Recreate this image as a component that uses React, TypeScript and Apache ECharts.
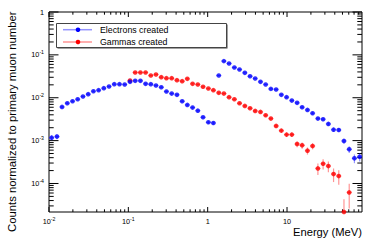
import React, { useEffect, useRef } from "react";
import * as echarts from "echarts";

// Bin centres (MeV)
const energyMeV = [
  0.0108, 0.0126, 0.0146, 0.017, 0.0198, 0.023, 0.0268, 0.0312, 0.0363, 0.0422,
  0.0491, 0.0571, 0.0665, 0.0773, 0.09, 0.105, 0.122, 0.142, 0.165, 0.192,
  0.223, 0.26, 0.302, 0.352, 0.41, 0.477, 0.554, 0.645, 0.751, 0.874,
  1.02, 1.18, 1.38, 1.6, 1.86, 2.17, 2.52, 2.94, 3.42, 3.97,
  4.63, 5.38, 6.26, 7.29, 8.48, 9.87, 11.5, 13.4, 15.5, 18.1,
  21.0, 24.5, 28.5, 33.2, 38.6, 44.9, 52.2, 60.8, 70.7, 82.3,
];

const electronCounts = [
  1.17e-3, 1.24e-3, 6.1e-3, 7.45e-3, 8.3e-3, 9.2e-3, 1.07e-2, 1.21e-2, 1.42e-2, 1.5e-2,
  1.67e-2, 1.83e-2, 2.07e-2, 2.07e-2, 2.04e-2, 2.35e-2, 2.48e-2, 2.48e-2, 2.11e-2, 2.07e-2,
  1.93e-2, 1.76e-2, 1.4e-2, 1.25e-2, 1.17e-2, 8.3e-3, 6.8e-3, 5.9e-3, 5.0e-3, 3.5e-3,
  2.68e-3, 2.58e-3, 3.3e-2, 7.15e-2, 6.3e-2, 5.08e-2, 4.56e-2, 3.81e-2, 3.18e-2, 2.81e-2,
  2.35e-2, 2.04e-2, 1.61e-2, 1.56e-2, 1.17e-2, 1.03e-2, 8.6e-3, 7.6e-3, 6.0e-3, 5.2e-3,
  4.35e-3, 3.27e-3, 3.15e-3, 2.45e-3, 1.8e-3, 1.77e-3, 9.8e-4, 6.26e-4, 3.86e-4, 4.2e-4,
];

const electronErrors = [
  1.55e-4, 1.6e-4, 3.5e-4, 3.9e-4, 4.1e-4, 4.3e-4, 4.7e-4, 5.0e-4, 5.4e-4, 5.5e-4,
  5.9e-4, 6.1e-4, 6.5e-4, 6.5e-4, 6.5e-4, 6.9e-4, 7.1e-4, 7.1e-4, 6.6e-4, 6.5e-4,
  6.3e-4, 6.0e-4, 5.4e-4, 5.1e-4, 4.9e-4, 4.1e-4, 3.7e-4, 3.5e-4, 3.2e-4, 2.7e-4,
  2.3e-4, 2.3e-4, 8.2e-4, 1.21e-3, 1.14e-3, 1.02e-3, 9.7e-4, 8.8e-4, 8.1e-4, 7.6e-4,
  6.9e-4, 6.5e-4, 5.7e-4, 5.7e-4, 4.9e-4, 4.6e-4, 4.2e-4, 3.9e-4, 3.5e-4, 3.3e-4,
  3.0e-4, 2.6e-4, 2.5e-4, 2.2e-4, 1.9e-4, 1.9e-4, 1.4e-4, 1.1e-4, 8.9e-5, 9.3e-5,
];

const gammaCounts: (number | null)[] = [
  null, null, null, null, null, null, null, null, null, null,
  null, null, null, null, null, 0.0252, 0.0388, 0.0388, 0.0388, 0.033,
  0.0349, 0.0302, 0.0286, 0.0286, 0.0257, 0.0244, 0.0276, 0.0211, 0.0204, 0.018,
  0.0164, 0.015, 0.013, 0.0125, 0.0103, 9.2e-3, 7.45e-3, 6.45e-3, 5.7e-3, 4.93e-3,
  4.67e-3, 3.9e-3, 3.27e-3, 2.2e-3, 1.71e-3, 1.38e-3, 1.38e-3, 8.34e-4, 7.76e-4, 5.82e-4,
  7.5e-4, 2.25e-4, 2.89e-4, 2.55e-4, 1.66e-4, 1.49e-4, 2.17e-5, 6.2e-5, null, null,
];

const gammaErrors: (number | null)[] = [
  null, null, null, null, null, null, null, null, null, null,
  null, null, null, null, null, 7.2e-4, 8.9e-4, 8.9e-4, 8.9e-4, 8.2e-4,
  8.5e-4, 7.9e-4, 7.7e-4, 7.7e-4, 7.3e-4, 7.1e-4, 7.5e-4, 6.6e-4, 6.5e-4, 6.1e-4,
  5.8e-4, 5.5e-4, 5.2e-4, 5.1e-4, 4.6e-4, 4.3e-4, 3.9e-4, 3.6e-4, 3.4e-4, 3.2e-4,
  3.1e-4, 2.8e-4, 2.6e-4, 2.1e-4, 1.9e-4, 1.7e-4, 1.7e-4, 1.3e-4, 1.26e-4, 1.09e-4,
  1.24e-4, 6.8e-5, 7.7e-5, 7.2e-5, 5.8e-5, 5.5e-5, 2.1e-5, 3.6e-5, null, null,
];

const seriesNames = ["Electrons created", "Gammas created"];
const xTickExponents = [-2, -1, 0, 1];
const yTickExponents = [-4, -3, -2, -1, 0];

// axis ranges in decades (log10)
const XMIN = -2;
const XMAX = 1.945;
const YMIN = -4.665;
const YMAX = 0;
const BIN_HALF_DEX = 0.0329;

const FONT = "Liberation Sans, Arial, Helvetica, sans-serif";
const BLUE = "#0000ff";
const RED = "#ff0000";
const BLUE_ERR = "rgba(0,0,255,0.42)";
const RED_ERR = "rgba(255,0,0,0.42)";

const lg = Math.log10;

function buildPoints(vals: (number | null)[], errs: (number | null)[]) {
  const pts: number[][] = [];
  vals.forEach((v, i) => {
    if (v == null) return;
    const e = errs[i] ?? 0;
    const lo = v - e > 0 ? Math.max(lg(v - e), YMIN) : YMIN;
    const hi = Math.min(lg(v + e), YMAX);
    pts.push([lg(energyMeV[i]), lg(v), lo, hi]);
  });
  return pts;
}

function errorSeries(name: string, data: number[][], color: string) {
  return {
    type: "custom",
    name,
    data,
    dimensions: ["x", "y", "lo", "hi"],
    encode: { x: 0, y: 1 },
    silent: true,
    clip: true,
    renderItem: (_p: any, api: any) => {
      const x = api.value(0);
      const y = api.value(1);
      const p = api.coord([x, y]);
      const pl = api.coord([x - BIN_HALF_DEX, y]);
      const pr = api.coord([x + BIN_HALF_DEX, y]);
      const plo = api.coord([x, api.value(2)]);
      const phi = api.coord([x, api.value(3)]);
      const style = { stroke: color, lineWidth: 1.2 };
      return {
        type: "group",
        children: [
          { type: "line", shape: { x1: pl[0], y1: p[1], x2: pr[0], y2: p[1] }, style },
          { type: "line", shape: { x1: p[0], y1: plo[1], x2: p[0], y2: phi[1] }, style },
        ],
      };
    },
  };
}

function labelFmt(v: number) {
  const n = Math.round(v);
  if (n === 0) return "{b|1}";
  if (n === 1) return "{b|10}";
  return `{b|10}{s|${n}}`;
}

const labelRich = {
  b: { fontSize: 7.3, fontFamily: FONT, color: "#000", lineHeight: 12 },
  s: { fontSize: 5.2, fontFamily: FONT, color: "#000", lineHeight: 5, padding: [0, 0, 5, 0] },
};

export default function App() {
  const ref = useRef<HTMLDivElement>(null);

  useEffect(() => {
    if (!ref.current) return;
    const chart = echarts.init(ref.current, null, { renderer: "svg" });

    // tick marks (log minor ticks at 2..9)
    const xTicks: number[][] = [];
    for (let n = -2; n <= 1; n++) {
      xTicks.push([n, YMIN, 5]);
      for (let k = 2; k <= 9; k++) {
        const v = n + lg(k);
        if (v < XMAX) xTicks.push([v, YMIN, 2.7]);
      }
    }
    const yTicks: number[][] = [];
    for (let n = -5; n <= 0; n++) {
      if (n >= YMIN) yTicks.push([XMIN, n, 9.5]);
      for (let k = 2; k <= 9; k++) {
        const v = n + lg(k);
        if (v > YMIN && v < YMAX) yTicks.push([XMIN, v, 4.7]);
      }
    }

    const eData = buildPoints(electronCounts, electronErrors);
    const gData = buildPoints(gammaCounts, gammaErrors);

    const tickStyle = { stroke: "#000", lineWidth: 1 };

    chart.setOption({
      animation: false,
      grid: {
        left: 49,
        top: 12,
        right: 19,
        bottom: 30,
        show: true,
        borderColor: "#000",
        borderWidth: 1,
        backgroundColor: "transparent",
      },
      xAxis: {
        type: "value",
        min: XMIN,
        max: XMAX,
        axisLine: { show: false },
        axisTick: { show: false },
        splitLine: { show: false },
        axisLabel: {
          customValues: xTickExponents,
          formatter: labelFmt,
          rich: labelRich,
          margin: 3,
          hideOverlap: false,
        },
      },
      yAxis: {
        type: "value",
        min: YMIN,
        max: YMAX,
        axisLine: { show: false },
        axisTick: { show: false },
        splitLine: { show: false },
        axisLabel: {
          customValues: yTickExponents,
          formatter: labelFmt,
          rich: labelRich,
          margin: 5,
          hideOverlap: false,
        },
      },
      series: [
        {
          type: "custom",
          name: "xticks",
          data: xTicks,
          encode: { x: 0, y: 1 },
          silent: true,
          clip: false,
          renderItem: (_p: any, api: any) => {
            const v = api.value(0);
            const len = api.value(2);
            const pb = api.coord([v, YMIN]);
            const pt = api.coord([v, YMAX]);
            return {
              type: "group",
              children: [
                { type: "line", shape: { x1: pb[0], y1: pb[1], x2: pb[0], y2: pb[1] - len }, style: tickStyle },
                { type: "line", shape: { x1: pt[0], y1: pt[1], x2: pt[0], y2: pt[1] + len }, style: tickStyle },
              ],
            };
          },
        },
        {
          type: "custom",
          name: "yticks",
          data: yTicks,
          encode: { x: 0, y: 1 },
          silent: true,
          clip: false,
          renderItem: (_p: any, api: any) => {
            const v = api.value(1);
            const len = api.value(2);
            const pl = api.coord([XMIN, v]);
            const pr = api.coord([XMAX, v]);
            return {
              type: "group",
              children: [
                { type: "line", shape: { x1: pl[0], y1: pl[1], x2: pl[0] + len, y2: pl[1] }, style: tickStyle },
                { type: "line", shape: { x1: pr[0], y1: pr[1], x2: pr[0] - len, y2: pr[1] }, style: tickStyle },
              ],
            };
          },
        },
        errorSeries(seriesNames[1] + " errors", gData, RED_ERR),
        {
          type: "scatter",
          name: seriesNames[1],
          data: gData.map((d) => [d[0], d[1]]),
          symbol: "circle",
          symbolSize: 4.6,
          itemStyle: { color: RED },
          clip: false,
        },
        errorSeries(seriesNames[0] + " errors", eData, BLUE_ERR),
        {
          type: "scatter",
          name: seriesNames[0],
          data: eData.map((d) => [d[0], d[1]]),
          symbol: "circle",
          symbolSize: 4.6,
          itemStyle: { color: BLUE },
          clip: false,
        },
      ],
      graphic: [
        // legend
        { type: "rect", shape: { x: 57.5, y: 24.5, width: 170, height: 24 }, style: { fill: "#444" }, z: 10 },
        { type: "rect", shape: { x: 56.5, y: 23.5, width: 170, height: 24 }, style: { fill: "#fff", stroke: "#444", lineWidth: 1 }, z: 11 },
        { type: "line", shape: { x1: 63, y1: 29.7, x2: 92, y2: 29.7 }, style: { stroke: BLUE_ERR, lineWidth: 1.5 }, z: 12 },
        { type: "circle", shape: { cx: 78, cy: 29.7, r: 2.3 }, style: { fill: BLUE }, z: 12 },
        { type: "text", x: 100, y: 29.7, style: { text: seriesNames[0], font: `8.8px ${FONT}`, fill: "#000", textVerticalAlign: "middle", verticalAlign: "middle" }, z: 12 },
        { type: "line", shape: { x1: 63, y1: 42, x2: 92, y2: 42 }, style: { stroke: RED_ERR, lineWidth: 1.5 }, z: 12 },
        { type: "circle", shape: { cx: 78, cy: 42, r: 2.3 }, style: { fill: RED }, z: 12 },
        { type: "text", x: 100, y: 42, style: { text: seriesNames[1], font: `8.8px ${FONT}`, fill: "#000", textVerticalAlign: "middle", verticalAlign: "middle" }, z: 12 },
        // axis titles
        { type: "text", x: 362, y: 232, style: { text: "Energy (MeV)", font: `11.2px ${FONT}`, fill: "#000", align: "right", textAlign: "right", verticalAlign: "middle", textVerticalAlign: "middle" } },
        { type: "text", x: 12, y: 11.5, rotation: Math.PI / 2, style: { text: "Counts normalized to primary muon number", font: `11.3px ${FONT}`, fill: "#000", align: "right", textAlign: "right", verticalAlign: "middle", textVerticalAlign: "middle" } },
      ],
    });

    return () => chart.dispose();
  }, []);

  return (
    <div
      ref={ref}
      style={{ position: "absolute", left: 0, top: 0, width: 381, height: 242 }}
    />
  );
}
